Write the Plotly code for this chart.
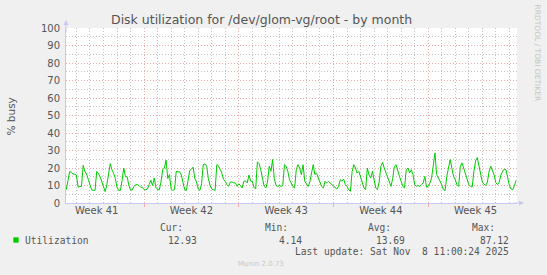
import pandas as pd
import plotly.graph_objects as go

# ---- data (3-hour steps) ----
utilization = [
    7.6, 13, 18, 17.5, 16.5, 16.5, 16, 9, 9.5, 9.5,
    21.5, 18, 16.5, 13.5, 10, 7.5, 7.2, 7.2, 18, 17,
    15, 12, 10, 6.5, 10.5, 17, 22.5, 19, 17, 14,
    9, 7.2, 7.2, 13, 20, 15, 15, 10, 7.5, 7.4,
    9.5, 10.5, 10.5, 10, 9, 9, 7.6, 7.6, 8, 10.5,
    13, 10, 14.3, 9, 7.6, 7.5, 12, 19, 20, 24.5,
    14, 16.2, 8, 7.2, 7.6, 18, 18, 17.8, 16, 11.4,
    7.6, 7.2, 14, 18.5, 19.4, 20.5, 14, 12, 8, 7.2,
    11, 22, 22.3, 21, 14, 10, 8, 7.4, 7.2, 21.9,
    21.2, 19.2, 17, 13.5, 12.4, 10.5, 9.5, 12, 12, 11.5,
    11.5, 9.5, 11, 10, 8.6, 12.5, 12.5, 11.5, 16, 12.5,
    12.4, 9, 8, 23.5, 22.5, 19, 13, 9.5, 8.6, 12,
    21, 18.1, 24.8, 14, 10, 9.5, 10, 9.5, 10, 21.9,
    21, 18.1, 13.3, 11.4, 9.5, 8.6, 19, 21.9, 20, 16.2,
    21.9, 12.4, 10.5, 9.5, 12, 18.1, 21.9, 16.2, 17.1, 14.3,
    11.4, 9.5, 8.6, 12.4, 11.4, 12.4, 11.4, 10.5, 9.5, 8.6,
    8.0, 9.5, 13.3, 12.4, 13.7, 10.5, 9.5, 7.6, 6.7, 18,
    21.9, 20, 17.1, 18.1, 15.2, 12.4, 8.6, 7.6, 20, 16,
    14.3, 18.1, 12.4, 8.6, 7.6, 12, 21, 23.2, 20, 17.1,
    15.2, 12.4, 9.5, 14, 21, 21.9, 18.1, 15.2, 12.4, 9.5,
    8.6, 19, 20, 17.1, 19, 16.2, 10.5, 9.5, 10, 9.5,
    10.5, 11.4, 15.2, 9, 9.5, 11.4, 14.3, 21.0, 28.6, 16.2,
    14.3, 13.3, 10.5, 7.6, 7.2, 15.2, 20, 24.8, 20, 15.2,
    13.3, 10.5, 9.5, 21, 22.9, 20, 17, 13, 10.5, 9.5,
    9.1, 18, 24, 26, 21, 15, 12, 10.8, 10, 12,
    18, 21, 18, 16, 11.5, 10.5, 12, 16, 18.1, 19.4,
    19, 14.3, 10, 8, 7.6, 10, 13,
]
series_start = "2025-10-06 06:00"
series_step = "3h"

week_labels = ["Week 41", "Week 42", "Week 43", "Week 44", "Week 45"]
week_label_start = "2025-10-08 12:00"   # middle of each Sunday-to-Sunday week

stat_names = ["Cur:", "Min:", "Avg:", "Max:"]
stat_values = ["12.93", "4.14", "13.69", "87.12"]
series_name = "Utilization"
last_update = "Last update: Sat Nov  8 11:00:24 2025"

x_range = ["2025-10-06 05:30", "2025-11-08 13:30"]

# ---- figure geometry ----
W, H = 547, 275
L, R, T, B = 66, 517, 28, 203

def xp(px):
    return (px - L) / (R - L)

def yp(py):
    return (B - py) / (B - T)

times = pd.date_range(series_start, periods=len(utilization), freq=series_step)
week_ticks = pd.date_range(week_label_start, periods=len(week_labels), freq="7D")

TXT = "#555555"
RED_GRID = "#F0AAAA"
GREY_GRID = "#C4C4C4"
AXIS = "#C8C8F4"
GREEN = "#00CC00"
DOTS = "1px,2px"

fig = go.Figure()
fig.add_trace(go.Scatter(x=times, y=utilization, mode="lines",
                         line=dict(color=GREEN, width=1),
                         hoverinfo="skip", showlegend=False))

fig.update_layout(
    width=W, height=H,
    margin=dict(l=L, r=W - R, t=T, b=H - B, pad=0),
    paper_bgcolor="#F0F0F0", plot_bgcolor="#FFFFFF",
    font=dict(family="DejaVu Sans", color=TXT, size=10),
    showlegend=False,
    xaxis=dict(
        type="date", range=x_range,
        tick0="2025-10-12", dtick=7 * 86400000,
        showgrid=True, gridcolor=RED_GRID, griddash=DOTS, gridwidth=1,
        showticklabels=False, ticks="outside", ticklen=3, tickcolor=RED_GRID,
        minor=dict(tick0="2025-10-12", dtick=86400000, showgrid=True,
                   gridcolor=GREY_GRID, griddash=DOTS, gridwidth=1),
        showline=True, linecolor=AXIS, linewidth=1, zeroline=False,
    ),
    xaxis2=dict(
        type="date", range=x_range, overlaying="x", anchor="y", side="bottom",
        tickmode="array", tickvals=week_ticks, ticktext=week_labels,
        showgrid=False, showline=False, ticks="", zeroline=False,
        tickfont=dict(size=10, color=TXT),
    ),
    yaxis=dict(
        range=[0, 100], tick0=0, dtick=10,
        showgrid=True, gridcolor=RED_GRID, griddash=DOTS, gridwidth=1,
        minor=dict(dtick=5, showgrid=True, gridcolor=GREY_GRID,
                   griddash=DOTS, gridwidth=1),
        showline=True, linecolor=AXIS, linewidth=1, zeroline=False,
        ticks="", ticklabelstandoff=3,
        tickfont=dict(size=10, color=TXT),
    ),
)

# invisible trace to bind the label axis
fig.add_trace(go.Scatter(x=[times[0]], y=[None], xaxis="x2", yaxis="y",
                         mode="lines", showlegend=False, hoverinfo="skip"))

ann = []
ann.append(dict(text="Disk utilization for /dev/glom-vg/root - by month",
                x=xp(261), y=yp(19.5), xanchor="center", yanchor="middle",
                font=dict(size=12.5, color=TXT)))
ann.append(dict(text="% busy", x=xp(10.5), y=yp(117), xanchor="center",
                yanchor="middle", textangle=-90, font=dict(size=10.5, color=TXT)))
ann.append(dict(text="RRDTOOL / TOBI OETIKER", x=xp(537.5), y=yp(53),
                xanchor="center", yanchor="middle", textangle=90,
                font=dict(size=7.5, color="#C4C4C4")))
ann.append(dict(x=xp(66), y=yp(20), ax=0, ay=14, text="", showarrow=True,
                arrowhead=2, arrowsize=1, arrowwidth=1, arrowcolor=AXIS))
ann.append(dict(x=xp(524), y=yp(203), ax=-12, ay=0, text="", showarrow=True,
                arrowhead=2, arrowsize=1, arrowwidth=1, arrowcolor=AXIS))

MONO = dict(family="DejaVu Sans Mono", size=9.6, color=TXT)
stat_right = [197, 302, 405, 509]
for name, val, xr in zip(stat_names, stat_values, stat_right):
    ann.append(dict(text=name, x=xp(xr - 12), y=yp(227), xanchor="right",
                    yanchor="middle", font=MONO))
    ann.append(dict(text=val, x=xp(xr + 2), y=yp(240), xanchor="right",
                    yanchor="middle", font=MONO))
ann.append(dict(text=series_name, x=xp(23), y=yp(240), xanchor="left",
                yanchor="middle", font=MONO))
ann.append(dict(text=last_update, x=xp(511), y=yp(251.7), xanchor="right",
                yanchor="middle", font=MONO))
ann.append(dict(text="Munin 2.0.73", x=xp(260.5), y=yp(264), xanchor="center",
                yanchor="middle", font=dict(size=7, color="#C8C8C8")))

for a in ann:
    a.setdefault("showarrow", False)
    a["xref"] = "paper"
    a["yref"] = "paper"
fig.update_layout(annotations=ann)

fig.add_shape(type="rect", xref="paper", yref="paper",
              x0=xp(13.3), x1=xp(18.6), y0=yp(242.7), y1=yp(237.3),
              fillcolor=GREEN, line=dict(width=0))

fig.write_html("out.html")
